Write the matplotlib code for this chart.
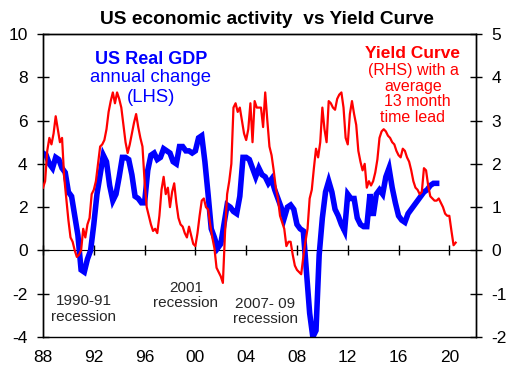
import matplotlib
matplotlib.use('Agg')
import matplotlib.pyplot as plt
import numpy as np

plt.rcParams['font.family'] = ['Liberation Sans', 'DejaVu Sans']
plt.rcParams['axes.unicode_minus'] = False

# US real GDP, annual % change, quarterly from 1988 Q1
gdp_start = 1988.0
gdp = [4.5, 4.4, 4.0, 3.8, 4.3, 4.2, 3.8, 3.6,
       2.7, 2.5, 1.6, 0.7, -0.9, -1.0, -0.4, 0.0,
       1.2, 2.6, 3.5, 4.4, 4.1, 3.0, 2.3, 2.6,
       3.4, 4.3, 4.3, 4.2, 3.5, 2.5, 2.4, 2.2,
       2.2, 3.7, 4.4, 4.5, 4.2, 4.3, 4.7, 4.6,
       4.5, 4.1, 4.0, 4.8, 4.8, 4.6, 4.6, 4.5,
       4.6, 5.2, 5.3, 4.1, 2.6, 1.0, 0.6, 0.1,
       0.3, 1.2, 2.1, 2.0, 1.8, 1.7, 2.5, 4.3,
       4.3, 4.2, 3.8, 3.4, 3.8, 3.5, 3.4, 3.1,
       3.3, 2.8, 2.4, 2.0, 1.5, 2.0, 2.1, 1.9,
       1.2, 1.0, 0.9, -1.0, -2.9, -4.0, -3.7, -0.2,
       1.5, 2.7, 3.2, 2.7, 1.9, 1.6, 1.2, 0.9,
       2.6, 2.4, 2.4, 1.5, 1.2, 1.1, 1.1, 2.6,
       1.6, 2.6, 2.8, 2.6, 3.4, 3.8, 2.9, 2.2,
       1.6, 1.4, 1.3, 1.7, 1.9, 2.1, 2.3, 2.5,
       2.7, 2.8, 3.0, 3.1, 3.1]

# yield curve (RHS), advanced 13 months, every two months from Jan 1988
yc_start = 1988.0
yield_curve = [1.45, 1.6, 2.3, 2.6, 2.45, 2.7,
               3.1, 2.8, 2.5, 2.6, 1.7, 1.2,
               0.7, 0.3, 0.2, 0.0, -0.15, -0.1,
               0.0, 0.5, 0.3, 0.6, 0.75, 1.3,
               1.4, 1.6, 2.0, 2.4, 2.45, 2.55,
               2.8, 3.2, 3.45, 3.65, 3.4, 3.65,
               3.5, 3.3, 2.9, 2.5, 2.25, 2.45,
               2.7, 2.95, 3.15, 2.85, 2.6, 2.4,
               1.6, 1.0, 0.8, 0.6, 0.45, 0.5,
               0.4, 0.8, 1.4, 1.7, 1.3, 1.45,
               1.0, 1.35, 1.55, 1.1, 0.75, 0.6,
               0.55, 0.4, 0.3, 0.55, 0.35, 0.15,
               0.1, 0.4, 0.8, 1.15, 1.2, 1.0,
               0.95, 0.6, 0.3, 0.05, -0.4, -0.5,
               -0.6, -0.75, 0.4, 1.3, 1.6, 2.0,
               3.3, 3.4, 3.2, 3.3, 3.0, 2.7,
               2.55, 2.8, 3.4, 2.5, 3.45, 3.3,
               3.3, 3.3, 2.85, 3.65, 3.0, 2.4,
               2.2, 1.85, 1.45, 1.2, 0.8, 0.65,
               0.5, 0.1, 0.2, 0.2, -0.1, -0.35,
               -0.45, -0.5, -0.55, -0.15, 0.2, 0.5,
               1.2, 1.4, 1.9, 2.35, 2.15, 2.5,
               3.3, 2.8, 2.5, 3.45, 3.4, 3.3,
               3.25, 3.5, 3.6, 3.65, 3.3, 2.6,
               2.45, 3.15, 3.45, 3.15, 2.9, 2.3,
               2.05, 1.85, 2.0, 1.45, 1.6, 1.5,
               1.6, 1.8, 2.1, 2.6, 2.75, 2.8,
               2.75, 2.65, 2.6, 2.5, 2.45, 2.3,
               2.2, 2.15, 2.35, 2.3, 2.15, 2.05,
               1.85, 1.6, 1.45, 1.4, 1.3, 1.35,
               1.9, 1.85, 1.5, 1.25, 1.2, 1.15,
               1.15, 1.2, 1.1, 1.0, 0.85, 0.8,
               0.8, 0.45, 0.12, 0.18]

xticks = [1988, 1992, 1996, 2000, 2004, 2008, 2012, 2016, 2020]
xlabels = ['88', '92', '96', '00', '04', '08', '12', '16', '20']

gdp_t = gdp_start + np.arange(len(gdp)) / 4
yc_t = yc_start + np.arange(len(yield_curve)) / 6

W, H = 510, 379
fig = plt.figure(figsize=(W / 100, H / 100), dpi=100)
ax = fig.add_axes([43 / W, 1 - 337 / H, (476 - 43) / W, (337 - 34) / H])
ax2 = ax.twinx()

ax.plot(gdp_t, gdp, color='#0000ff', lw=4, solid_joinstyle='miter', zorder=3)
ax2.plot(yc_t, yield_curve, color='#ff0000', lw=1.6, zorder=4)

ax.set_xlim(1988, 2022.1)
ax.set_ylim(-4, 10)
ax2.set_ylim(-2, 5)
ax.set_yticks(range(-4, 11, 2))
ax2.set_yticks(range(-2, 6))

# x axis drawn through zero, labels along the bottom
ax.spines['bottom'].set_position(('data', 0))
ax.set_xticks(xticks)
ax.tick_params(axis='x', direction='inout', length=7, labelbottom=False, width=1)
ax2.xaxis.set_visible(True)
ax2.set_xticks(xticks)
ax2.set_xticklabels(xlabels)
ax2.tick_params(axis='x', length=0, pad=9, labelsize=12.5)

ax.tick_params(axis='y', direction='inout', length=8, width=1, labelsize=12.5, pad=7)
ax2.tick_params(axis='y', direction='inout', length=8, width=1, labelsize=12.5, pad=7)

for a in (ax, ax2):
    for s in a.spines.values():
        s.set_linewidth(1)
ax.spines['bottom'].set_linewidth(0.8)

def ftext(x, y, s, **kw):
    fig.text(x / W, 1 - y / H, s, ha='center', va='center', **kw)

ftext(267, 19, 'US economic activity  vs Yield Curve', fontsize=13.8, fontweight='bold')

ftext(151, 59, 'US Real GDP', fontsize=13, fontweight='bold', color='#0000ff')
ftext(150, 78, 'annual change', fontsize=13.3, color='#0000ff')
ftext(151, 97, '(LHS)', fontsize=13.3, color='#0000ff')

ftext(413, 53, 'Yield Curve', fontsize=12.5, fontweight='bold', color='#ff0000')
ftext(413, 70, '(RHS) with a', fontsize=11.5, color='#ff0000')
ftext(413, 87, 'average', fontsize=11.5, color='#ff0000')
ftext(417, 102, '13 month', fontsize=11.5, color='#ff0000')
ftext(413, 117, 'time lead', fontsize=11.5, color='#ff0000')

grey = '#262626'
ftext(84, 301, '1990-91', fontsize=11, color=grey)
ftext(84, 317, 'recession', fontsize=11, color=grey)
ftext(186, 288, '2001', fontsize=11, color=grey)
ftext(186, 303, 'recession', fontsize=11, color=grey)
ftext(265, 304, '2007- 09', fontsize=11, color=grey)
ftext(265, 319, 'recession', fontsize=11, color=grey)

fig.savefig('out.png', dpi=100)
